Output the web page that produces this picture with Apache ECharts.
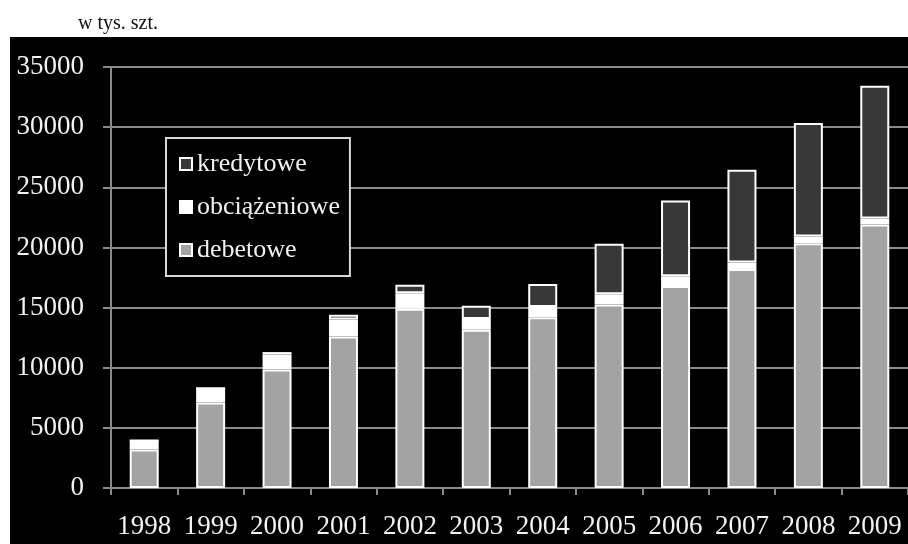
<!DOCTYPE html>
<html>
<head>
<meta charset="utf-8">
<script src="https://cdn.jsdelivr.net/npm/echarts@6/dist/echarts.min.js"></script>
<style>
  html, body { margin: 0; padding: 0; background: #fff; overflow: hidden; }
  #bg { position: absolute; left: 10px; top: 37px; width: 898px; height: 507px; background: #000; }
  #chart { position: absolute; left: 0; top: 0; width: 908px; height: 544px; }
</style>
</head>
<body>
<div id="bg"></div>
<div id="chart"></div>
<script>
const categories = ['1998','1999','2000','2001','2002','2003','2004','2005','2006','2007','2008','2009'];
const debetowe = [3200, 7100, 9850, 12600, 14900, 13150, 14200, 15250, 16800, 18200, 20350, 21900];
const obciazeniowe = [750, 1200, 1250, 1400, 1300, 900, 850, 850, 800, 550, 550, 500];
const kredytowe = [0, 0, 200, 400, 700, 1100, 1900, 4200, 6300, 7700, 9450, 11050];
const unitLabel = 'w tys. szt.';

const font = '"Liberation Serif", "Times New Roman", serif';
const chart = echarts.init(document.getElementById('chart'), null, { renderer: 'canvas' });
const barStyle = (c) => ({ color: c, borderColor: '#ffffff', borderWidth: 2 });

chart.setOption({
  backgroundColor: 'transparent',
  animation: false,
  title: {
    text: unitLabel, left: 73, top: 9,
    textStyle: { fontFamily: font, fontSize: 20, fontWeight: 'normal', color: '#111' }
  },
  legend: {
    orient: 'vertical', left: 166, top: 138,
    data: ['kredytowe', 'obciążeniowe', 'debetowe'],
    backgroundColor: '#000', borderColor: '#d8d8d8', borderWidth: 2,
    padding: [13, 10, 13, 13], itemGap: 17, itemWidth: 12, itemHeight: 12,
    textStyle: { fontFamily: font, fontSize: 26, color: '#f2f2f2', lineHeight: 26 },
    icon: 'rect'
  },
  grid: { left: 111, top: 67, width: 802, height: 421, containLabel: false },
  xAxis: {
    type: 'category', data: categories,
    axisLine: { lineStyle: { color: '#8a8a8a', width: 2 } },
    axisTick: { show: true, length: 7, alignWithLabel: false, lineStyle: { color: '#8a8a8a', width: 2 } },
    axisLabel: { fontFamily: font, fontSize: 27, color: '#f2f2f2', margin: 25, interval: 0 }
  },
  yAxis: {
    type: 'value', min: 0, max: 35000, interval: 5000,
    axisLine: { show: true, lineStyle: { color: '#8a8a8a', width: 2 } },
    axisTick: { show: true, length: 8, lineStyle: { color: '#8a8a8a', width: 2 } },
    splitLine: { show: true, lineStyle: { color: '#8a8a8a', width: 2 } },
    axisLabel: { fontFamily: font, fontSize: 27, color: '#f2f2f2', margin: 27, formatter: (v) => String(v) }
  },
  series: [
    { name: 'debetowe', type: 'bar', stack: 't', data: debetowe, barWidth: 29, itemStyle: barStyle('#a3a3a3') },
    { name: 'obciążeniowe', type: 'bar', stack: 't', data: obciazeniowe, barWidth: 29, itemStyle: barStyle('#ffffff') },
    { name: 'kredytowe', type: 'bar', stack: 't', data: kredytowe, barWidth: 29, itemStyle: barStyle('#383838') }
  ]
});
</script>
</body>
</html>
